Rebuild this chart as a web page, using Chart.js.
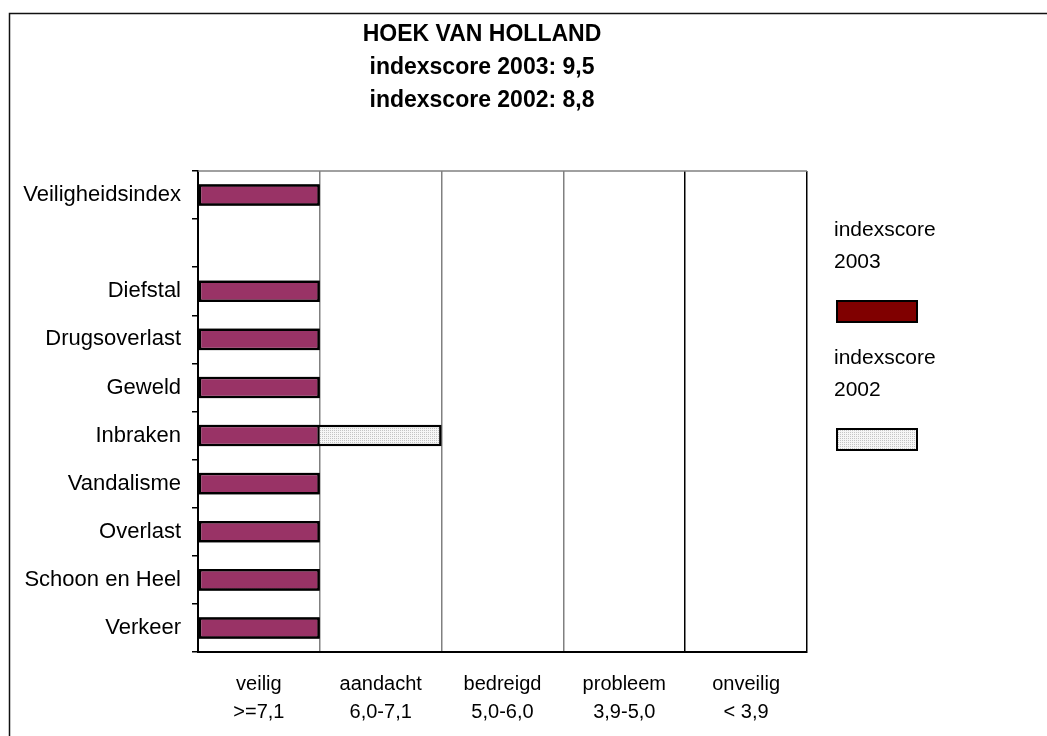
<!DOCTYPE html>
<html>
<head>
<meta charset="utf-8">
<script src="https://cdn.jsdelivr.net/npm/chart.js@4.4.1/dist/chart.umd.min.js"></script>
<style>
  html, body { margin: 0; padding: 0; background: #fff; }
  #wrap { width: 1047px; height: 736px; position: relative; }
</style>
</head>
<body>
<div id="wrap"><canvas id="c" width="1047" height="736"></canvas></div>
<script>
// ---- data ----
const titleLines = ['HOEK VAN HOLLAND', 'indexscore 2003: 9,5', 'indexscore 2002: 8,8'];
const categories = ['Veiligheidsindex', '', 'Diefstal', 'Drugsoverlast', 'Geweld', 'Inbraken', 'Vandalisme', 'Overlast', 'Schoon en Heel', 'Verkeer'];
const score2003 = [1, null, 1, 1, 1, 1, 1, 1, 1, 1];
const score2002 = [1, null, 1, 1, 1, 2, 1, 1, 1, 1];
const seriesNames = [['indexscore', '2003'], ['indexscore', '2002']];
const xLabels = [['veilig', '>=7,1'], ['aandacht', '6,0-7,1'], ['bedreigd', '5,0-6,0'], ['probleem', '3,9-5,0'], ['onveilig', '< 3,9']];

const FONT = "'Liberation Sans', Arial, sans-serif";

// dotted fill for 2002
function dotPattern() {
  const p = document.createElement('canvas');
  p.width = 2; p.height = 2;
  const g = p.getContext('2d');
  g.fillStyle = '#f6f6f6'; g.fillRect(0, 0, 2, 2);
  g.fillStyle = '#c4c4c4'; g.fillRect(0, 0, 1, 1);
  return g.createPattern(p, 'repeat');
}
const pat = dotPattern();

const decor = {
  id: 'decor',
  afterDraw(chart) {
    const ctx = chart.ctx;
    const a = chart.chartArea;
    ctx.save();
    // outer frame
    ctx.strokeStyle = '#111';
    ctx.lineWidth = 1.5;
    ctx.strokeRect(9.5, 13.5, 1200, 900);
    // top border of plot area
    ctx.strokeStyle = '#808080';
    ctx.lineWidth = 1.5;
    ctx.beginPath(); ctx.moveTo(a.left, a.top); ctx.lineTo(a.right, a.top); ctx.stroke();
    // title
    ctx.fillStyle = '#000';
    ctx.font = 'bold 23px ' + FONT;
    ctx.textAlign = 'center';
    ctx.textBaseline = 'middle';
    const ty = [35, 68, 101];
    titleLines.forEach((t, i) => ctx.fillText(t, 482, ty[i]));
    // legend
    ctx.font = '21px ' + FONT;
    ctx.textAlign = 'left';
    const legendTop = [230, 358];
    chart.data.datasets.forEach((ds, i) => {
      const y0 = legendTop[i];
      ds.legendText.forEach((t, j) => ctx.fillText(t, 834, y0 + j * 32));
      const sy = y0 + 71;
      ctx.fillStyle = ds.legendColor;
      ctx.fillRect(837, sy, 80, 21);
      ctx.strokeStyle = '#000';
      ctx.lineWidth = 2;
      ctx.strokeRect(837, sy, 80, 21);
      ctx.fillStyle = '#000';
    });
    ctx.restore();
  }
};

new Chart(document.getElementById('c'), {
  type: 'bar',
  data: {
    labels: categories,
    datasets: [
      {
        label: 'indexscore 2003',
        legendText: seriesNames[0],
        legendColor: '#800000',
        data: score2003,
        backgroundColor: '#993366',
        borderColor: '#000',
        borderWidth: 2.5,
        borderSkipped: false,
        grouped: false,
        barPercentage: 0.45,
        categoryPercentage: 1
      },
      {
        label: 'indexscore 2002',
        legendText: seriesNames[1],
        legendColor: pat,
        data: score2002,
        backgroundColor: pat,
        borderColor: '#000',
        borderWidth: 2.5,
        borderSkipped: false,
        grouped: false,
        barPercentage: 0.45,
        categoryPercentage: 1
      }
    ]
  },
  options: {
    indexAxis: 'y',
    responsive: false,
    animation: false,
    devicePixelRatio: 1,
    layout: { padding: { top: 171, right: 240, left: 0, bottom: 0 } },
    plugins: { legend: { display: false }, title: { display: false }, tooltip: { enabled: false } },
    scales: {
      x: {
        min: 0, max: 5,
        afterFit(s) { s.height = 84; },
        ticks: {
          stepSize: 0.5,
          autoSkip: false,
          maxRotation: 0,
          padding: 18,
          color: '#000',
          font: { family: FONT, size: 20, lineHeight: 1.4 },
          callback(v) {
            const r = v - Math.floor(v);
            return Math.abs(r - 0.5) < 1e-6 ? xLabels[Math.floor(v)] : '';
          }
        },
        grid: {
          drawTicks: false,
          color(ctx) {
            const v = ctx.tick ? ctx.tick.value : 0;
            if (Math.abs(v - Math.round(v)) > 1e-6) return 'rgba(0,0,0,0)';
            return v >= 4 ? '#000' : '#808080';
          },
          lineWidth: 1.5
        },
        border: { display: true, color: '#000', width: 2 }
      },
      y: {
        afterFit(s) { s.width = 198; },
        ticks: {
          padding: 11,
          color: '#000',
          font: { family: FONT, size: 22 }
        },
        grid: {
          offset: true,
          drawOnChartArea: false,
          drawTicks: true,
          tickLength: 6,
          color: '#000',
          lineWidth: 1.5
        },
        border: { display: true, color: '#000', width: 2 }
      }
    }
  },
  plugins: [decor]
});
</script>
</body>
</html>
